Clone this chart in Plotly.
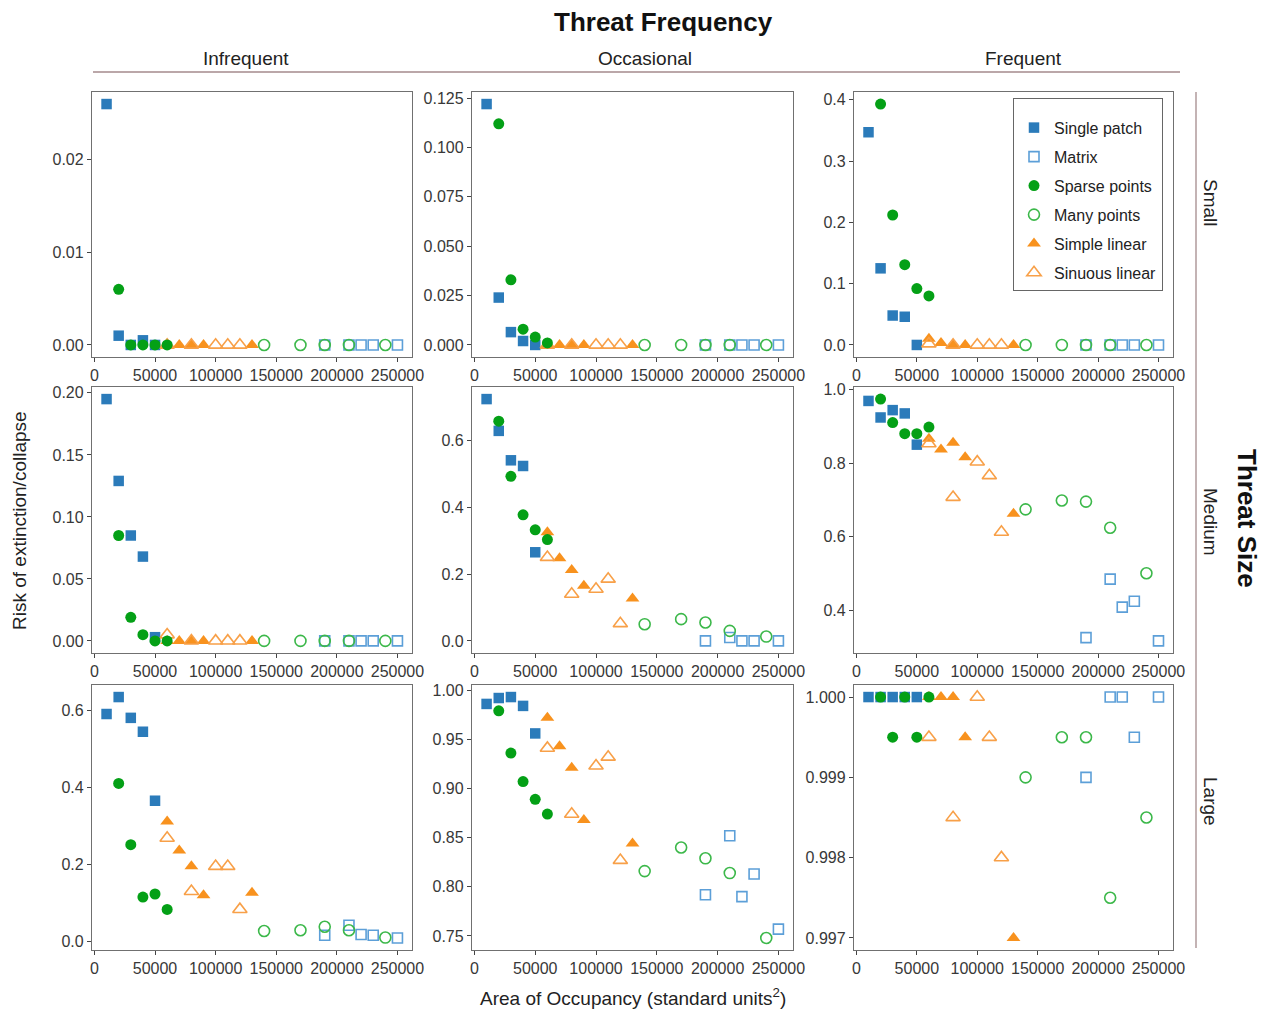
import plotly.graph_objects as go

W, H = 1268, 1012

SIZES = ["Small", "Medium", "Large"]
FREQS = ["Infrequent", "Occasional", "Frequent"]

# x positions (Area of Occupancy) for each scenario type
X_SINGLE = [10000, 20000, 30000, 40000, 50000]
X_MATRIX = [190000, 210000, 220000, 230000, 250000]
X_SPARSE = [20000, 30000, 40000, 50000, 60000]
X_MANY = [140000, 170000, 190000, 210000, 240000]
X_SIMPLE = [60000, 70000, 80000, 90000, 130000]
X_SINUOUS = [60000, 80000, 100000, 110000, 120000]

# risk values, panels in order: Small(Inf,Occ,Freq), Medium(...), Large(...)
SINGLE_PATCH = [
    [0.026, 0.001, 0.0, 0.0005, 0.0],
    [0.122, 0.024, 0.0065, 0.002, 0.0],
    [0.347, 0.125, 0.048, 0.046, 0.0],
    [0.195, 0.129, 0.085, 0.068, 0.003],
    [0.723, 0.628, 0.540, 0.523, 0.265],
    [0.969, 0.924, 0.944, 0.935, 0.850],
    [0.591, 0.635, 0.581, 0.545, 0.366],
    [0.986, 0.992, 0.993, 0.984, 0.956],
    [1.0, 1.0, 1.0, 1.0, 1.0],
]
MATRIX = [
    [0.0, 0.0, 0.0, 0.0, 0.0],
    [0.0, 0.0, 0.0, 0.0, 0.0],
    [0.0, 0.0, 0.0, 0.0, 0.0],
    [0.0, 0.0, 0.0, 0.0, 0.0],
    [0.0, 0.010, 0.0, 0.0, 0.0],
    [0.325, 0.484, 0.408, 0.424, 0.316],
    [0.017, 0.043, 0.019, 0.017, 0.010],
    [0.792, 0.852, 0.790, 0.813, 0.757],
    [0.999, 1.0, 1.0, 0.9995, 1.0],
]
SPARSE_POINTS = [
    [0.006, 0.0, 0.0, 0.0, 0.0],
    [0.112, 0.033, 0.008, 0.004, 0.001],
    [0.393, 0.212, 0.131, 0.092, 0.080],
    [0.085, 0.019, 0.005, 0.0, 0.0],
    [0.657, 0.492, 0.377, 0.332, 0.303],
    [0.974, 0.910, 0.880, 0.880, 0.898],
    [0.411, 0.252, 0.116, 0.124, 0.084],
    [0.979, 0.936, 0.907, 0.889, 0.874],
    [1.0, 0.9995, 1.0, 0.9995, 1.0],
]
MANY_POINTS = [
    [0.0, 0.0, 0.0, 0.0, 0.0],
    [0.0, 0.0, 0.0, 0.0, 0.0],
    [0.0, 0.0, 0.0, 0.0, 0.0],
    [0.0, 0.0, 0.0, 0.0, 0.0],
    [0.050, 0.065, 0.055, 0.030, 0.013],
    [0.674, 0.698, 0.695, 0.624, 0.500],
    [0.028, 0.030, 0.039, 0.030, 0.011],
    [0.816, 0.840, 0.829, 0.814, 0.748],
    [0.999, 0.9995, 0.9995, 0.9975, 0.9985],
]
SIMPLE_LINEAR = [
    [0.0, 0.0, 0.0, 0.0, 0.0],
    [0.0, 0.0, 0.0, 0.0, 0.0],
    [0.010, 0.003, 0.0, 0.0, 0.0],
    [0.0, 0.0, 0.0, 0.0, 0.0],
    [0.325, 0.247, 0.212, 0.165, 0.127],
    [0.866, 0.837, 0.855, 0.816, 0.662],
    [0.312, 0.237, 0.196, 0.121, 0.127],
    [0.972, 0.943, 0.921, 0.868, 0.844],
    [1.0, 1.0, 1.0, 0.9995, 0.997],
]
SINUOUS_LINEAR = [
    [0.0, 0.0, 0.0, 0.0, 0.0],
    [0.0, 0.0, 0.0, 0.0, 0.0],
    [0.002, 0.0, 0.0, 0.0, 0.0],
    [0.005, 0.0, 0.0, 0.0, 0.0],
    [0.250, 0.140, 0.155, 0.185, 0.052],
    [0.853, 0.707, 0.803, 0.766, 0.612],
    [0.269, 0.131, 0.196, 0.196, 0.084],
    [0.941, 0.874, 0.923, 0.932, 0.827],
    [0.9995, 0.9985, 1.0, 0.9995, 0.998],
]

X_TICKS = [0, 50000, 100000, 150000, 200000, 250000]
Y_TICKS = [
    [0, 0.01, 0.02],
    [0, 0.025, 0.05, 0.075, 0.1, 0.125],
    [0, 0.1, 0.2, 0.3, 0.4],
    [0, 0.05, 0.1, 0.15, 0.2],
    [0, 0.2, 0.4, 0.6],
    [0.4, 0.6, 0.8, 1.0],
    [0, 0.2, 0.4, 0.6],
    [0.75, 0.8, 0.85, 0.9, 0.95, 1.0],
    [0.997, 0.998, 0.999, 1.0],
]
Y_TICK_FMT = [".2f", ".3f", ".1f", ".2f", ".1f", ".1f", ".1f", ".2f", ".3f"]

# ---- styling / layout ----
FONT = "Liberation Sans, Arial, sans-serif"
COL_PX = [(92, 412), (472, 793), (854, 1173)]
ROW_PX = [(92, 357), (387, 653), (685, 950)]
STRIP_COLOR = "#a48a8c"

# draw order; legendrank gives legend order
SERIES = [
    ("Single patch", X_SINGLE, SINGLE_PATCH, "square", "#2b7bba", 10.5, False, 1),
    ("Matrix", X_MATRIX, MATRIX, "square-open", "#5c9fd8", 10, True, 2),
    ("Simple linear", X_SIMPLE, SIMPLE_LINEAR, "triangle-up", "#f8921e", 12, False, 5),
    ("Sinuous linear", X_SINUOUS, SINUOUS_LINEAR, "triangle-up-open", "#f8a048", 12.5, True, 6),
    ("Sparse points", X_SPARSE, SPARSE_POINTS, "circle", "#04a016", 11, False, 3),
    ("Many points", X_MANY, MANY_POINTS, "circle-open", "#3cb84a", 11, True, 4),
]


def px_x(v):
    return v / W


def px_y(v):
    return 1 - v / H


fig = go.Figure()
layout = {}

for k in range(9):
    r, c = divmod(k, 3)
    idx = k + 1
    xa = "x" if idx == 1 else f"x{idx}"
    ya = "y" if idx == 1 else f"y{idx}"
    for name, xs, ys, sym, col, sz, is_open, rank in SERIES:
        fig.add_trace(go.Scatter(
            x=xs, y=ys[k], mode="markers", name=name, legendgroup=name,
            showlegend=(k == 0), legendrank=rank,
            marker=dict(symbol=sym, size=sz, color=col,
                        line=dict(width=1.6 if is_open else 0, color=col)),
            xaxis=xa, yaxis=ya, cliponaxis=False,
        ))
    allv = [v for _, _, ys, *_ in SERIES for v in ys[k]]
    lo, hi = min(allv), max(allv)
    pad = (hi - lo) * 0.05
    axis_common = dict(
        showline=True, mirror=True, linecolor="#707070", linewidth=1.3,
        ticks="outside", ticklen=4, tickwidth=1.2, tickcolor="#444",
        showgrid=False, zeroline=False,
        tickfont=dict(family=FONT, size=16, color="#383838"),
    )
    layout["xaxis" + ("" if idx == 1 else str(idx))] = dict(
        domain=[px_x(COL_PX[c][0]), px_x(COL_PX[c][1])],
        range=[-2000, 262000],
        tickvals=X_TICKS, ticktext=[str(v) for v in X_TICKS],
        anchor=ya, **axis_common,
    )
    layout["yaxis" + ("" if idx == 1 else str(idx))] = dict(
        domain=[px_y(ROW_PX[r][1]), px_y(ROW_PX[r][0])],
        range=[lo - pad, hi + pad],
        tickvals=Y_TICKS[k], tickformat=Y_TICK_FMT[k],
        anchor=xa, **axis_common,
    )

annotations = [
    dict(text="<b>Threat Frequency</b>", x=px_x(663), y=px_y(22), font=dict(size=26, color="#111")),
    dict(text="<b>Threat Size</b>", x=px_x(1247), y=px_y(518), textangle=90, font=dict(size=26, color="#111")),
    dict(text="Risk of extinction/collapse", x=px_x(19), y=px_y(521), textangle=-90, font=dict(size=19, color="#222")),
    dict(text="Area of Occupancy (standard units<sup>2</sup>)", x=px_x(633), y=px_y(997), font=dict(size=19, color="#222")),
]
for lbl, xc in zip(FREQS, [246, 645, 1023]):
    annotations.append(dict(text=lbl, x=px_x(xc), y=px_y(58), font=dict(size=19, color="#222")))
for lbl, yc in zip(SIZES, [203, 522, 801]):
    annotations.append(dict(text=lbl, x=px_x(1211), y=px_y(yc), textangle=90, font=dict(size=19, color="#222")))
for a in annotations:
    a.update(xref="paper", yref="paper", showarrow=False, xanchor="center", yanchor="middle")
    a["font"]["family"] = FONT

shapes = [
    dict(type="line", xref="paper", yref="paper", x0=px_x(93), x1=px_x(1180), y0=px_y(72), y1=px_y(72),
         line=dict(color=STRIP_COLOR, width=1.3)),
    dict(type="line", xref="paper", yref="paper", x0=px_x(1196), x1=px_x(1196), y0=px_y(92), y1=px_y(948),
         line=dict(color=STRIP_COLOR, width=1.3)),
]

fig.update_layout(
    width=W, height=H,
    margin=dict(l=0, r=0, t=0, b=0, autoexpand=False),
    paper_bgcolor="white", plot_bgcolor="white",
    font=dict(family=FONT, color="#222"),
    annotations=annotations, shapes=shapes,
    legend=dict(x=px_x(1013), y=px_y(98), xanchor="left", yanchor="top",
                bordercolor="#666", borderwidth=1, bgcolor="white",
                font=dict(size=16, family=FONT, color="#222"),
                title=dict(text=" ", font=dict(size=9, family=FONT)),
                tracegroupgap=5.2, traceorder="grouped"),
    **layout,
)

fig.write_html("out.html")
